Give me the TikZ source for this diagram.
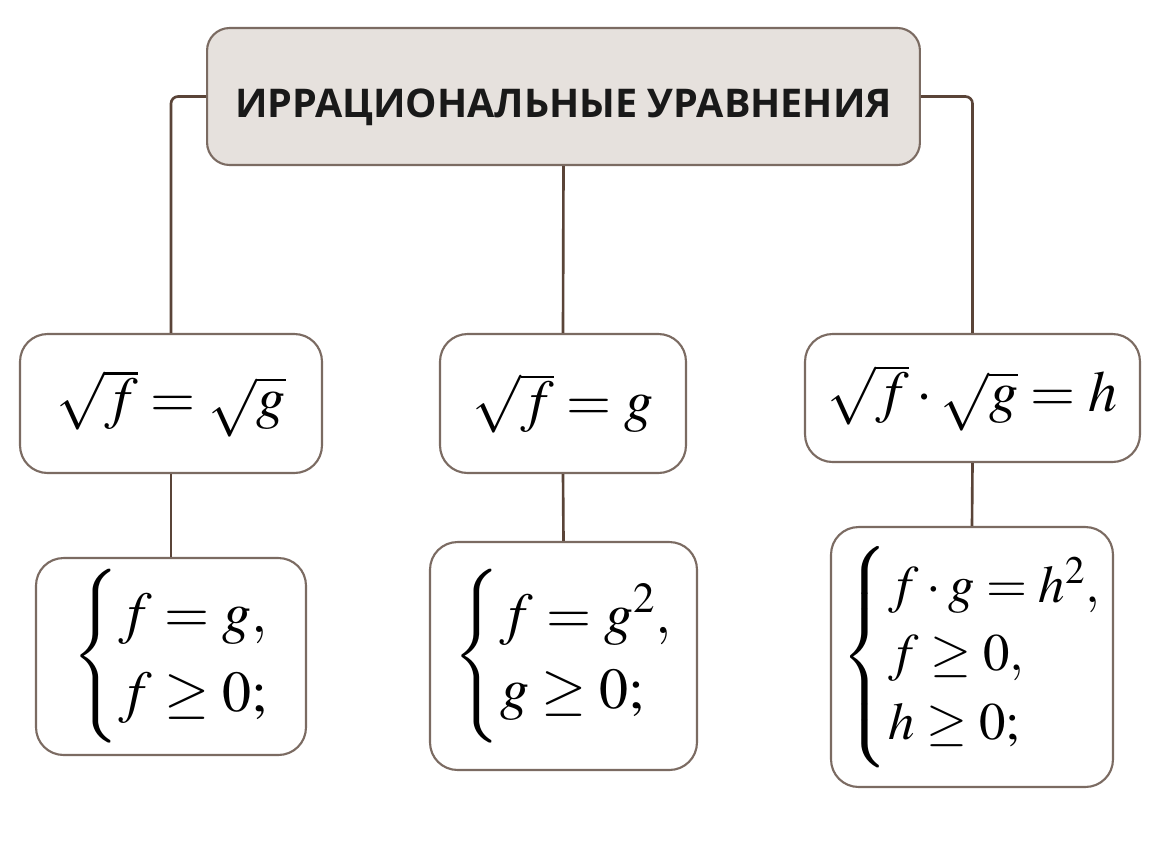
\documentclass[tikz,border=0pt]{standalone}
\usepackage{mathptmx}
\usepackage{fontspec}
\newfontfamily\titlefont{Open Sans}
\usepackage{tikz}

\definecolor{boxline}{HTML}{7B6B62}
\definecolor{wire}{HTML}{5A4438}
\definecolor{titlefill}{HTML}{E6E1DD}

\begin{document}
\begin{tikzpicture}[x=0.02cm, y=-0.02cm,
    eqbox/.style={draw=boxline, line width=1.2pt, rounded corners=0.55cm, fill=white,
                  inner sep=0pt, font=\fontsize{33}{32}\selectfont},
    sysbox/.style 2 args={eqbox, font=\fontsize{#1}{#2}\selectfont},
    headbox/.style={draw=boxline, line width=1.2pt, rounded corners=0.45cm, fill=titlefill,
                    inner sep=0pt, text=black!90, font=\titlefont\bfseries\fontsize{22.5}{26}\selectfont},
    wireline/.style={draw=wire, line width=1.5pt, rounded corners=4pt}]
    \useasboundingbox[fill=white] (0,0) rectangle (1167,840);

    % Define the title box
    \node[headbox, minimum width=14.26cm, minimum height=2.74cm] (title) at (563.5,96.5)
        {\raisebox{-0.41cm}[0pt][0pt]{ИРРАЦИОНАЛЬНЫЕ УРАВНЕНИЯ}};

    % Draw the three equations
    \node[eqbox, minimum width=6.04cm, minimum height=2.78cm] (sqA) at (171,403.5) {$\sqrt{f}=\sqrt{g}$};
    \node[eqbox, minimum width=4.92cm, minimum height=2.78cm] (sqB) at (563,403.5) {$\sqrt{f}=g$};
    \node[eqbox, minimum width=6.70cm, minimum height=2.56cm] (sqC) at (972.5,398) {$\sqrt{f}\cdot\sqrt{g}=h$};

    % Draw the equivalent systems
    \node[sysbox={33}{45}, minimum width=5.40cm, minimum height=3.94cm] (sysA) at (171,656.5)
        {$\left\{\begin{array}{@{}l@{}} f=g,\\ f\geq 0; \end{array}\right.$};
    \node[sysbox={33}{43}, minimum width=5.34cm, minimum height=4.56cm] (sysB) at (563.5,656)
        {$\left\{\begin{array}{@{}l@{}} f=g^2,\\ g\geq 0; \end{array}\right.$};
    \node[sysbox={30}{39}, minimum width=5.64cm, minimum height=5.20cm] (sysC) at (972,657)
        {$\left\{\begin{array}{@{}l@{}} f\cdot g=h^2,\\ f\geq 0,\\ h\geq 0; \end{array}\right.$};

    % Connect title to equations
    \draw[wireline] (title.west) -| (sqA.north);
    \draw[wireline] (title.east) -| (sqC.north);
    \draw[wireline] (title.south) -- (sqB.north);

    % Connect equations to systems
    \draw[wireline] (sqA.south) -- (sysA.north);
    \draw[wireline] (sqB.south) -- (sysB.north);
    \draw[wireline] (sqC.south) -- (sysC.north);
\end{tikzpicture}
\end{document}
